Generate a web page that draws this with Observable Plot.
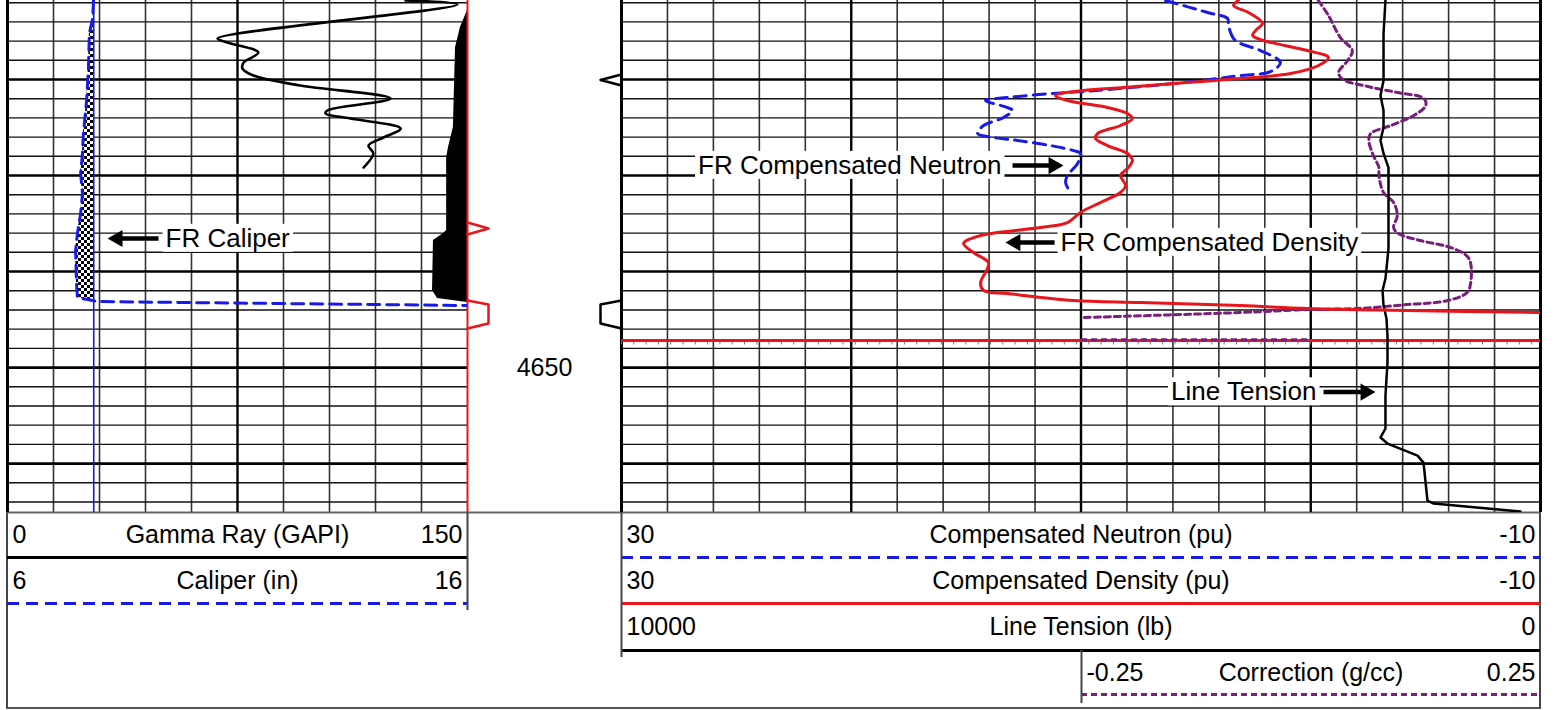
<!DOCTYPE html>
<html><head><meta charset="utf-8">
<script src="https://cdn.jsdelivr.net/npm/d3@7"></script>
<script src="https://cdn.jsdelivr.net/npm/@observablehq/plot@0.6"></script>
<style>
body{margin:0;background:#fff;}
#wrap{position:relative;width:1554px;height:710px;overflow:hidden;font-family:"Liberation Sans",Arimo,Arial,sans-serif;}
#frame{position:absolute;left:6px;top:0;width:1531px;height:707px;border-left:2px solid #444;border-right:2px solid #444;border-bottom:2px solid #555;}
</style></head><body>
<svg width="0" height="0" style="position:absolute"><defs><pattern id="checker" width="6" height="6" patternUnits="userSpaceOnUse"><rect width="6" height="6" fill="#fff"/><rect width="3" height="3" fill="#000"/><rect x="3" y="3" width="3" height="3" fill="#000"/></pattern></defs></svg>
<div id="wrap"><div id="frame"></div></div>
<script>
// ---------------- DATA ----------------
const depthTop = 4611.77, depthBottom = 4665.1;
const depthLabels = [4650];
const bitSize = 7.875;

const grDepth = [4611.77,4612.19,4615.73,4616.15,4617.19,4618.23,4618.85,4619.58,4620.63,4621.98,4623.23,4623.54,4624.06,4625.10,4626.04,4626.88,4627.71,4629.17];
const grValue = [129.8,146.7,68.5,71.7,81.8,77.0,76.6,80.2,95.5,124.9,104.3,103.7,111.8,128.2,122.6,117.7,119.3,116.1];

const shadeDepth = [4612.81,4614.58,4616.67,4625.00,4627.08,4628.13,4635.73,4636.04,4636.77,4641.98,4642.81,4643.23];
const shadeValue = [150,147.7,146.1,145.4,143.8,143.2,143.2,142.2,138.9,138.6,140.2,150];

const calDepth = [4611.77,4613.65,4615.21,4618.75,4622.19,4625.63,4627.71,4629.79,4631.88,4633.96,4636.04,4637.81,4641.25,4642.71,4642.92,4643.13,4643.54];
const calValue = [7.87,7.85,7.78,7.76,7.72,7.65,7.63,7.59,7.63,7.59,7.52,7.48,7.50,7.52,7.74,7.96,16];

const neuDepth = [4611.77,4613.02,4613.65,4614.38,4615.73,4616.25,4616.98,4618.23,4619.17,4619.58,4619.90,4620.42,4620.83,4621.25,4621.46,4621.88,4622.19,4622.92,4623.23,4623.96,4624.79,4625.63,4626.04,4626.35,4626.88,4627.40,4627.71,4628.75,4630.00,4630.73,4631.77];
const neuValue = [6.32,4.49,3.62,3.58,3.36,3.06,2.19,1.32,1.75,3.06,4.06,5.97,7.84,9.89,11.33,13.20,14.16,13.20,12.98,13.37,14.24,14.50,13.81,12.76,11.33,10.33,10.02,10.15,10.59,10.67,10.46];

const denDepth = [4611.77,4612.29,4613.02,4613.85,4614.17,4614.90,4615.42,4615.94,4616.98,4617.71,4618.54,4619.38,4619.90,4620.42,4620.83,4621.15,4621.67,4622.19,4622.92,4623.54,4624.06,4624.79,4625.63,4626.15,4626.88,4627.71,4628.44,4629.27,4630.00,4631.04,4631.77,4632.81,4633.85,4634.90,4635.42,4636.25,4637.08,4638.02,4639.06,4639.69,4641.15,4641.98,4642.29,4643.02,4643.23,4643.54,4643.85,4644.06,4644.27];
const denValue = [3.15,3.36,2.71,2.19,2.10,2.40,2.53,2.06,0.14,-0.77,-0.34,0.88,3.06,5.97,8.15,9.89,11.11,10.59,8.85,7.98,7.76,8.28,9.28,9.37,8.85,7.98,7.76,7.98,8.28,8.06,8.28,9.15,10.02,10.59,11.76,14.37,15.11,14.68,14.03,14.07,14.37,14.24,13.20,10.33,7.41,3.06,0.14,-4.21,-10];

const tenDepth = [4611.77,4615.21,4620.10,4621.67,4623.23,4625.00,4626.35,4627.71,4629.17,4632.40,4637.60,4640.73,4641.98,4643.54,4644.90,4646.67,4649.48,4652.92,4656.35,4657.29,4657.92,4659.17,4659.90,4663.85,4664.17,4665.00];
const tenValue = [1687,1708,1708,1741,1708,1708,1741,1708,1654,1654,1654,1687,1719,1708,1676,1665,1665,1687,1687,1741,1665,1338,1273,1230,1164,218];

const corDepth = [4611.77,4613.33,4615.63,4616.98,4618.02,4619.27,4620.00,4620.73,4621.35,4621.98,4622.71,4623.75,4624.79,4625.63,4626.35,4627.71,4629.17,4630.00,4631.77,4632.81,4634.17,4635.42,4636.04,4636.77,4637.60,4638.65,4641.15,4642.19,4643.02,4643.44,4643.85,4643.96,4644.27,4644.79];
const corValue = [0.008,0.019,0.032,0.045,0.040,0.030,0.035,0.062,0.094,0.123,0.125,0.112,0.087,0.065,0.063,0.067,0.074,0.074,0.079,0.090,0.094,0.090,0.095,0.119,0.155,0.172,0.174,0.170,0.149,0.105,0.051,-0.004,-0.077,-0.248];

const redLineDepth = 4647.19;
const corMark = {d: 4647.1, a: -0.25, b: 0};
const redFlags = [[4634.9, 4636.15], [4643.02, 4645.94]];
const blackFlags = [[4619.48, 4620.63], [4643.02, 4645.94]];

const grHeader = ["0", "Gamma Ray (GAPI)", "150"];
const calHeader = ["6", "Caliper (in)", "16"];
const neuHeader = ["30", "Compensated Neutron (pu)", "-10"];
const denHeader = ["30", "Compensated Density (pu)", "-10"];
const tenHeader = ["10000", "Line Tension (lb)", "0"];
const corHeader = ["-0.25", "Correction (g/cc)", "0.25"];

const calLabel = {text: "FR Caliper", d: 4636.56, x: 9.435, anchor: "start", tail: 9.283, tip: 8.174};
const neuLabel = {text: "FR Compensated Neutron", d: 4628.96, x: 13.46, anchor: "end", tail: 12.98, tip: 10.76};
const denLabel = {text: "FR Compensated Density", d: 4636.98, x: 10.89, anchor: "start", tail: 11.15, tip: 13.29};
const tenLabel = {text: "Line Tension", d: 4652.55, x: 2437, anchor: "end", tail: 2361, tip: 1795};

// ---------------- HELPERS ----------------
const zip = (ds, vs) => ds.map((d, i) => ({d, v: vs[i]}));
const gr = zip(grDepth, grValue), shade = zip(shadeDepth, shadeValue), cal = zip(calDepth, calValue);
const calFill = cal.filter(p => p.v < bitSize);
const neu = zip(neuDepth, neuValue), den = zip(denDepth, denValue), ten = zip(tenDepth, tenValue), cor = zip(corDepth, corValue);

const W = 1554, H = 710, TB = 512;
const FONT = "Liberation Sans, Arimo, Arial, sans-serif";
const BLUE = "#1a1ae6", RED = "#e8161c", PURPLE = "#7a1e7e";
const THIN = "#333";
const wrap = document.getElementById("wrap");

function layer(svg, top = 0) {
  svg.style.position = "absolute"; svg.style.left = "0px"; svg.style.top = top + "px";
  wrap.appendChild(svg);
}
function trackPlot(left, right, domain, marks) {
  return Plot.plot({
    width: W, height: H, marginLeft: left, marginRight: W - right, marginTop: 0, marginBottom: H - TB,
    x: {domain, axis: null}, y: {domain: [depthTop, depthBottom], reverse: true, axis: null},
    style: {background: "transparent", overflow: "visible", fontFamily: FONT}, marks
  });
}
const boxedTexts = [];
function labelMarks(L, xs) {
  boxedTexts.push(L.text);
  const dir = Math.sign(xs(L.tip) - xs(L.tail));
  const end = xs.invert(xs(L.tip) - dir * 13);
  return [
    Plot.text([L], {x: "x", y: "d", text: "text", textAnchor: L.anchor, fontSize: 26, fill: "#000", fontFamily: FONT}),
    Plot.link([L], {x1: "tail", x2: () => end, y1: "d", y2: "d", stroke: "#000", strokeWidth: 4.5}),
    Plot.dot([L], {x: "tip", y: "d", symbol: "triangle", r: 6.4, fill: "#000", rotate: dir > 0 ? 90 : -90, dx: -dir * 10})
  ];
}
const depthGrid = d3.range(4612, 4665, 2);
const thinDepth = depthGrid.filter(d => d % 10 !== 0), thickDepth = depthGrid.filter(d => d % 10 === 0);
const gridY = [
  Plot.ruleY(thinDepth, {stroke: "#111", strokeWidth: 1.4}),
  Plot.ruleY(thickDepth, {stroke: "#000", strokeWidth: 2.7}),
  Plot.ruleY([depthBottom], {stroke: "#666", strokeWidth: 2})
];

// ---------------- LEFT TRACK ----------------
const grGrid = d3.range(0, 151, 15);
layer(trackPlot(7, 467, [0, 150], [
  Plot.ruleX(grGrid.filter(v => v > 0 && v < 150 && v !== 75), {stroke: THIN, strokeWidth: 1.6}),
  ...gridY,
  Plot.ruleX([75], {stroke: "#000", strokeWidth: 2.4}),
  Plot.areaX(shade, {y: "d", x1: "v", x2: 150, fill: "#000", clip: true}),
  Plot.line(gr, {x: "v", y: "d", stroke: "#000", strokeWidth: 2.6, curve: "catmull-rom", clip: true}),
  Plot.ruleX([0], {stroke: "#000", strokeWidth: 3}),
  Plot.ruleX([150], {stroke: RED, strokeWidth: 2})
]));
const calX = d3.scaleLinear([6, 16], [7, 467]);
layer(trackPlot(7, 467, [6, 16], [
  Plot.areaX(calFill, {y: "d", x1: "v", x2: bitSize, fill: "url(#checker)", clip: true}),
  Plot.ruleX([bitSize], {stroke: BLUE, strokeWidth: 1.6}),
  Plot.line(cal, {x: "v", y: "d", stroke: BLUE, strokeWidth: 3, strokeDasharray: "12,7", clip: true}),
  ...labelMarks(calLabel, calX)
]));

// ---------------- DEPTH TRACK ----------------
function flag(iv, edge, dir) {
  const [a, b] = iv, w = 21;
  if (b - a < 2) return [[a, edge], [(a + b) / 2, edge + dir * w], [b, edge]].map(([d, x]) => ({d, x}));
  return [[a, edge], [a + 0.42, edge + dir * w], [b - 0.52, edge + dir * w], [b, edge]].map(([d, x]) => ({d, x}));
}
layer(trackPlot(467, 621, [0, 154], [
  Plot.ruleY([depthBottom], {stroke: "#666", strokeWidth: 2}),
  Plot.text(depthLabels, {y: d => d, text: d => String(d), fontSize: 25, fill: "#000", fontFamily: FONT}),
  ...redFlags.map(iv => Plot.line(flag(iv, 0, 1), {x: "x", y: "d", stroke: RED, strokeWidth: 2.5})),
  ...blackFlags.map(iv => Plot.line(flag(iv, 154, -1), {x: "x", y: "d", stroke: "#000", strokeWidth: 2.5}))
]));

// ---------------- RIGHT TRACK ----------------
const puGrid = d3.range(30, -11, -2);
layer(trackPlot(621, 1540, [30, -10], [
  Plot.ruleX(puGrid.filter(v => v % 10 !== 0), {stroke: THIN, strokeWidth: 1.6}),
  ...gridY,
  Plot.ruleX([20, 10, 0], {stroke: "#000", strokeWidth: 2.4}),
  Plot.ruleX([30, -10], {stroke: "#000", strokeWidth: 3}),
  Plot.ruleY([redLineDepth], {stroke: "#777", strokeWidth: 3, dy: 2.5, strokeDasharray: "1,11.3"}),
  Plot.ruleY([redLineDepth], {stroke: RED, strokeWidth: 3})
]));
layer(trackPlot(1081, 1540, [-0.25, 0.25], [
  Plot.line(cor, {x: "v", y: "d", stroke: PURPLE, strokeWidth: 3, strokeDasharray: "6,4", curve: "catmull-rom", clip: true}),
  Plot.ruleY([corMark], {y: "d", x1: "a", x2: "b", stroke: PURPLE, strokeWidth: 3, strokeDasharray: "6,4"})
]));
const tenX = d3.scaleLinear([10000, 0], [621, 1540]);
layer(trackPlot(621, 1540, [10000, 0], [
  Plot.line(ten, {x: "v", y: "d", stroke: "#000", strokeWidth: 2.5, clip: true}),
  ...labelMarks(tenLabel, tenX)
]));
const puX = d3.scaleLinear([30, -10], [621, 1540]);
layer(trackPlot(621, 1540, [30, -10], [
  Plot.line(neu, {x: "v", y: "d", stroke: BLUE, strokeWidth: 3, strokeDasharray: "12,7", curve: "catmull-rom", clip: true}),
  Plot.line(den, {x: "v", y: "d", stroke: RED, strokeWidth: 3, curve: "catmull-rom", clip: true}),
  ...labelMarks(neuLabel, puX),
  ...labelMarks(denLabel, puX)
]));

// ---------------- HEADERS ----------------
function header(top, h, left, right, domain, labels, line, vx, ext) {
  const svg = Plot.plot({
    width: W, height: h, marginLeft: left, marginRight: W - right, marginTop: 0, marginBottom: 0,
    x: {domain, axis: null}, y: {domain: [0, 1], axis: null},
    style: {background: "transparent", overflow: "visible", fontFamily: FONT},
    marks: [
      Plot.text([labels[0]], {x: domain[0], y: 0.5, text: d => d, textAnchor: "start", dx: 5, fontSize: 25, fill: "#000", fontFamily: FONT}),
      Plot.text([labels[1]], {x: (domain[0] + domain[1]) / 2, y: 0.5, text: d => d, fontSize: 25, fill: "#000", fontFamily: FONT}),
      Plot.text([labels[2]], {x: domain[1], y: 0.5, text: d => d, textAnchor: "end", dx: -5, fontSize: 25, fill: "#000", fontFamily: FONT}),
      Plot.ruleY([0], {stroke: line.stroke, strokeWidth: line.width, strokeDasharray: line.dash}),
      Plot.ruleX([vx], {y1: 1, y2: -ext / h, stroke: "#444", strokeWidth: 2})
    ]
  });
  layer(svg, top);
}
header(512, 45, 7, 467, [0, 150], grHeader, {stroke: "#000", width: 3}, 150, 0);
header(557, 46, 7, 467, [6, 16], calHeader, {stroke: BLUE, width: 3, dash: "12,7"}, 16, 7);
header(512, 45, 621, 1540, [30, -10], neuHeader, {stroke: BLUE, width: 3, dash: "12,7"}, 30, 0);
header(557, 46, 621, 1540, [30, -10], denHeader, {stroke: RED, width: 3}, 30, 0);
header(603, 47, 621, 1540, [10000, 0], tenHeader, {stroke: "#000", width: 3}, 10000, 7);
header(650, 44, 1081, 1540, [-0.25, 0.25], corHeader, {stroke: PURPLE, width: 3, dash: "6,4"}, -0.25, 9);

// white boxes behind annotation labels
const NS = "http://www.w3.org/2000/svg";
document.querySelectorAll("#wrap svg text").forEach(t => {
  if (!boxedTexts.includes(t.textContent)) return;
  const b = t.getBBox();
  const r = document.createElementNS(NS, "rect");
  r.setAttribute("x", b.x - 3); r.setAttribute("y", b.y + 1);
  r.setAttribute("width", b.width + 6); r.setAttribute("height", b.height - 2);
  r.setAttribute("fill", "#fff");
  if (t.getAttribute("transform")) r.setAttribute("transform", t.getAttribute("transform"));
  t.parentNode.insertBefore(r, t);
});
</script>
</body></html>
